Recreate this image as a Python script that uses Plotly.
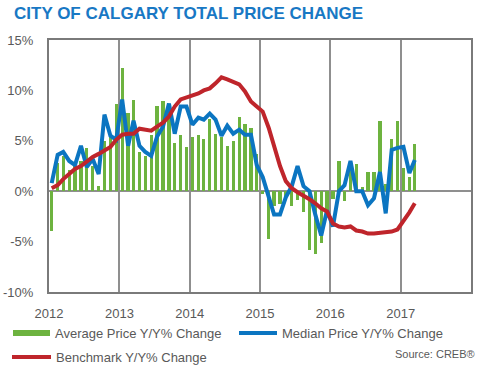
import pandas as pd
import plotly.graph_objects as go

# ---------------- data ----------------
months = (pd.date_range("2012-01-01", "2017-03-01", freq="MS") + pd.Timedelta(days=14)).tolist()

avg_price_yy = [
    -3.9, 2.8, 3.5, 2.1, 2.5, 3.0, 4.3, 2.5, 0.5, 5.0, 5.6, 8.7,
    12.2, 7.8, 9.0, 3.9, 3.5, 5.6, 8.5, 8.9, 8.0, 4.8, 5.6, 4.4,
    5.4, 5.6, 5.2, 7.2, 5.7, 5.4, 4.5, 5.0, 7.4, 6.7, 6.3, 3.7,
    -0.3, -4.7, -1.5, -1.3, -0.7, -1.5, -0.9, -2.1, -5.8, -6.2, -5.1, -2.0,
    -0.8, 3.0, -1.0, 2.2, 2.7, 0.4, 1.9, 1.9, 7.0, 0.7, 5.2, 7.0,
    2.3, 1.4, 4.7,
]
median_price_yy = [
    0.8, 3.6, 3.9, 3.0, 2.6, 4.5, 2.4, 3.2, 1.7, 7.6, 5.5, 5.1,
    9.1, 4.5, 7.0, 4.5, 3.9, 3.5, 5.4, 6.4, 8.7, 5.7, 8.4, 8.4,
    6.6, 7.3, 7.1, 7.7, 7.1, 5.5, 6.5, 5.7, 6.1, 5.6, 5.6, 2.6,
    1.4, -0.6, -2.3, -2.3, -0.6, 0.5, 2.5, 0.5, 0.0, -2.3, -4.4, -1.9,
    -3.5, 0.0, 0.6, 3.0, 0.0, 0.0, -1.4, -0.7, 1.9, -2.2, 4.1, 4.3,
    4.4, 1.8, 3.1,
]
benchmark_yy = [
    0.3, 0.6, 1.2, 1.7, 2.2, 2.5, 3.0, 3.4, 3.7, 4.0, 4.4, 5.1,
    5.6, 5.7, 5.7, 6.2, 6.1, 6.0, 6.4, 6.8, 7.4, 8.4, 9.1, 9.3,
    9.5, 9.7, 10.0, 10.2, 10.7, 11.3, 11.1, 10.8, 10.6, 9.9, 8.9, 8.4,
    7.9, 6.3, 4.4, 2.5, 1.0, 0.3, -0.1, -0.4, -0.8, -1.2, -1.7, -2.0,
    -3.2, -3.5, -3.6, -3.5, -3.9, -4.0, -4.2, -4.2, -4.1, -4.0, -4.0, -3.8,
    -3.0, -2.1, -1.2,
]

y_tick_vals = [-10, -5, 0, 5, 10, 15]
y_tick_labels = ["-10%", "-5%", "0%", "5%", "10%", "15%"]
x_tick_vals = ["2012-01-01", "2013-01-01", "2014-01-01", "2015-01-01", "2016-01-01", "2017-01-01"]
x_tick_labels = ["2012", "2013", "2014", "2015", "2016", "2017"]

series_names = ["Average Price Y/Y% Change", "Median Price Y/Y% Change", "Benchmark Y/Y% Change"]
title_text = "CITY OF CALGARY TOTAL PRICE CHANGE"
source_text = "Source: CREB®"

# ---------------- style ----------------
GREEN = "#6db33f"
BLUE = "#0b75c1"
RED = "#bf252b"
TEXT = "#595959"
GRID = "#8f8f8f"
FONT = "Arial, Liberation Sans, sans-serif"

W, H = 493, 383
L, R, T, B = 49, 471, 40, 292


def px2x(px):
    return (px - L) / (R - L)


def px2y(py):
    return (B - py) / (B - T)


fig = go.Figure()
fig.add_trace(go.Bar(
    x=months, y=avg_price_yy, name=series_names[0],
    marker=dict(color=GREEN, line=dict(width=0)),
    width=1000 * 86400 * 17, showlegend=False,
))
fig.add_trace(go.Scatter(
    x=months, y=median_price_yy, name=series_names[1], mode="lines",
    line=dict(color=BLUE, width=4), showlegend=False,
))
fig.add_trace(go.Scatter(
    x=months, y=benchmark_yy, name=series_names[2], mode="lines",
    line=dict(color=RED, width=4), showlegend=False,
))

fig.update_layout(
    width=W, height=H,
    margin=dict(l=L, r=W - R, t=T, b=H - B, autoexpand=False),
    paper_bgcolor="white", plot_bgcolor="white",
    font=dict(family=FONT, size=13, color=TEXT),
    bargap=0,
    title=dict(
        text="<b>" + title_text + "</b>",
        font=dict(family=FONT, size=17, color="#1878c4"),
        x=14 / W, xanchor="left", xref="container",
        y=1 - 13 / H, yanchor="middle", yref="container",
    ),
    xaxis=dict(
        type="date", range=["2012-01-01", "2018-01-01"],
        tickvals=x_tick_vals, ticktext=x_tick_labels,
        showgrid=True, gridcolor=GRID, gridwidth=1.5,
        showline=True, linecolor="#7a7a7a", linewidth=2, mirror=True,
        ticks="", zeroline=False, ticklabelstandoff=8, automargin=False,
        tickfont=dict(size=13, color=TEXT),
    ),
    yaxis=dict(
        range=[-10, 15], tickvals=y_tick_vals, ticktext=y_tick_labels,
        showgrid=False, zeroline=True, zerolinecolor=GRID, zerolinewidth=1.5,
        showline=True, linecolor="#7a7a7a", linewidth=2, mirror=True,
        ticks="", ticklabelstandoff=11, automargin=False,
        tickfont=dict(size=13, color=TEXT),
    ),
)

# ---------------- legend (manual) ----------------
legend_items = [
    (series_names[0], GREEN, 6, 13, 50, 333, 53),
    (series_names[1], BLUE, 4, 239, 277, 333, 280),
    (series_names[2], RED, 4, 12, 51, 357, 54),
]
for name, color, thick, x0, x1, yc, tx in legend_items:
    fig.add_shape(
        type="line", xref="paper", yref="paper",
        x0=px2x(x0), x1=px2x(x1), y0=px2y(yc), y1=px2y(yc),
        line=dict(color=color, width=thick),
    )
    fig.add_annotation(
        text=name, xref="paper", yref="paper",
        x=px2x(tx), y=px2y(yc), xanchor="left", yanchor="middle",
        showarrow=False, font=dict(size=13, color=TEXT),
    )

fig.add_annotation(
    text=source_text, xref="paper", yref="paper",
    x=px2x(477), y=px2y(354), xanchor="right", yanchor="middle",
    showarrow=False, font=dict(size=11, color=TEXT),
)

fig.write_html(
    "out.html",
    config={"displayModeBar": False},
    post_script="document.body.style.margin='0px';document.body.style.overflow='hidden';",
)
